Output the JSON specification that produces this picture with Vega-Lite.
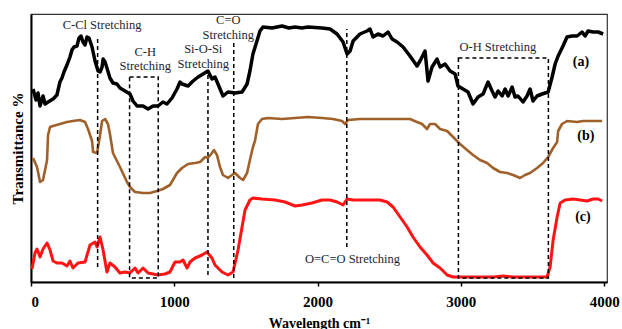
{
  "$schema": "https://vega.github.io/schema/vega-lite/v6.json",
  "width": 576,
  "height": 268,
  "autosize": "none",
  "padding": {"left": 31, "top": 14, "right": 15, "bottom": 47},
  "config": {
    "font": "'Liberation Serif', 'Times New Roman', serif",
    "view": {"stroke": "#333333", "strokeWidth": 1.2},
    "axisX": {"domainColor": "black", "domainWidth": 2, "tickColor": "black", "tickWidth": 1.5, "tickSize": 4, "labelFont": "'Liberation Serif', 'Times New Roman', serif", "labelFontWeight": "bold", "labelFontSize": 15, "labelColor": "black", "labelPadding": 8, "grid": false, "titleFont": "'Liberation Serif', 'Times New Roman', serif", "titleFontWeight": "bold", "titleFontSize": 14, "titleColor": "black", "titlePadding": 7},
    "axisY": {"domainColor": "black", "domainWidth": 2, "ticks": false, "labels": false, "grid": false, "titleFont": "'Liberation Serif', 'Times New Roman', serif", "titleFontWeight": "bold", "titleFontSize": 15, "titleColor": "black", "titlePadding": 6}
  },
  "datasets": {
    "a": [
      {"x":14,"y":193},{"x":35,"y":182},{"x":49,"y":189},{"x":63,"y":176},{"x":84,"y":186},{"x":98,"y":178},{"x":119,"y":180},{"x":154,"y":183},{"x":181,"y":187},{"x":202,"y":200},{"x":216,"y":204},{"x":230,"y":210},{"x":251,"y":217},{"x":272,"y":225},{"x":286,"y":232},{"x":300,"y":235},{"x":321,"y":236},{"x":335,"y":244},{"x":349,"y":246},{"x":363,"y":240},{"x":377,"y":237},{"x":391,"y":245},{"x":405,"y":244},{"x":426,"y":235},{"x":447,"y":221},{"x":468,"y":211},{"x":482,"y":210},{"x":496,"y":215},{"x":503,"y":223},{"x":517,"y":220},{"x":530,"y":214},{"x":551,"y":204},{"x":572,"y":199},{"x":600,"y":198},{"x":621,"y":194},{"x":656,"y":191},{"x":691,"y":188},{"x":712,"y":181},{"x":740,"y":176},{"x":782,"y":176},{"x":817,"y":173},{"x":852,"y":176},{"x":886,"y":176},{"x":921,"y":180},{"x":949,"y":178},{"x":984,"y":184},{"x":1019,"y":193},{"x":1040,"y":200},{"x":1054,"y":198},{"x":1096,"y":196},{"x":1131,"y":201},{"x":1166,"y":205},{"x":1201,"y":208},{"x":1235,"y":211},{"x":1263,"y":203},{"x":1284,"y":205},{"x":1305,"y":198},{"x":1340,"y":186},{"x":1375,"y":190},{"x":1424,"y":189},{"x":1473,"y":190},{"x":1508,"y":198},{"x":1528,"y":211},{"x":1549,"y":228},{"x":1577,"y":241},{"x":1598,"y":251},{"x":1619,"y":255},{"x":1682,"y":254},{"x":1752,"y":256},{"x":1800,"y":254},{"x":1843,"y":255},{"x":1890,"y":254},{"x":1933,"y":255},{"x":2031,"y":254},{"x":2087,"y":253},{"x":2136,"y":248},{"x":2178,"y":240},{"x":2206,"y":228},{"x":2227,"y":231},{"x":2248,"y":241},{"x":2296,"y":248},{"x":2345,"y":251},{"x":2366,"y":253},{"x":2387,"y":245},{"x":2422,"y":248},{"x":2457,"y":246},{"x":2492,"y":250},{"x":2520,"y":243},{"x":2555,"y":240},{"x":2597,"y":235},{"x":2645,"y":226},{"x":2694,"y":216},{"x":2715,"y":221},{"x":2750,"y":231},{"x":2771,"y":201},{"x":2799,"y":215},{"x":2834,"y":223},{"x":2855,"y":215},{"x":2890,"y":218},{"x":2925,"y":211},{"x":2960,"y":208},{"x":2980,"y":196},{"x":3015,"y":193},{"x":3050,"y":190},{"x":3085,"y":178},{"x":3120,"y":185},{"x":3155,"y":188},{"x":3190,"y":200},{"x":3218,"y":191},{"x":3239,"y":185},{"x":3260,"y":191},{"x":3288,"y":186},{"x":3309,"y":193},{"x":3330,"y":186},{"x":3358,"y":195},{"x":3378,"y":185},{"x":3399,"y":186},{"x":3434,"y":180},{"x":3462,"y":186},{"x":3483,"y":193},{"x":3504,"y":181},{"x":3532,"y":186},{"x":3567,"y":188},{"x":3609,"y":190},{"x":3637,"y":205},{"x":3658,"y":218},{"x":3679,"y":226},{"x":3713,"y":236},{"x":3741,"y":245},{"x":3776,"y":246},{"x":3811,"y":246},{"x":3846,"y":250},{"x":3867,"y":246},{"x":3888,"y":251},{"x":3923,"y":250},{"x":3958,"y":250},{"x":3993,"y":248}
    ],
    "b": [
      {"x":14,"y":124},{"x":42,"y":115},{"x":63,"y":100},{"x":84,"y":102},{"x":112,"y":122},{"x":119,"y":147},{"x":133,"y":155},{"x":154,"y":156},{"x":202,"y":158},{"x":251,"y":160},{"x":293,"y":161},{"x":342,"y":162},{"x":377,"y":160},{"x":398,"y":153},{"x":426,"y":141},{"x":433,"y":130},{"x":461,"y":129},{"x":468,"y":135},{"x":482,"y":147},{"x":496,"y":161},{"x":517,"y":163},{"x":537,"y":158},{"x":551,"y":148},{"x":572,"y":129},{"x":621,"y":115},{"x":670,"y":100},{"x":691,"y":95},{"x":726,"y":90},{"x":782,"y":89},{"x":831,"y":89},{"x":879,"y":91},{"x":921,"y":93},{"x":970,"y":97},{"x":1019,"y":109},{"x":1040,"y":112},{"x":1054,"y":114},{"x":1096,"y":118},{"x":1145,"y":119},{"x":1180,"y":120},{"x":1215,"y":125},{"x":1235,"y":124},{"x":1263,"y":129},{"x":1277,"y":132},{"x":1298,"y":127},{"x":1319,"y":115},{"x":1340,"y":107},{"x":1375,"y":104},{"x":1403,"y":107},{"x":1424,"y":109},{"x":1459,"y":104},{"x":1480,"y":102},{"x":1508,"y":109},{"x":1528,"y":122},{"x":1549,"y":135},{"x":1563,"y":141},{"x":1584,"y":158},{"x":1612,"y":163},{"x":1654,"y":164},{"x":1752,"y":163},{"x":1843,"y":164},{"x":1933,"y":165},{"x":2031,"y":164},{"x":2108,"y":163},{"x":2171,"y":161},{"x":2192,"y":158},{"x":2213,"y":162},{"x":2296,"y":163},{"x":2485,"y":163},{"x":2645,"y":163},{"x":2694,"y":160},{"x":2729,"y":158},{"x":2764,"y":153},{"x":2785,"y":158},{"x":2820,"y":158},{"x":2855,"y":153},{"x":2904,"y":151},{"x":2946,"y":145},{"x":2994,"y":138},{"x":3043,"y":132},{"x":3085,"y":127},{"x":3134,"y":122},{"x":3183,"y":119},{"x":3225,"y":114},{"x":3274,"y":110},{"x":3323,"y":109},{"x":3365,"y":107},{"x":3413,"y":104},{"x":3448,"y":107},{"x":3483,"y":109},{"x":3532,"y":114},{"x":3574,"y":119},{"x":3609,"y":125},{"x":3644,"y":134},{"x":3672,"y":140},{"x":3679,"y":151},{"x":3706,"y":158},{"x":3741,"y":161},{"x":3811,"y":160},{"x":3853,"y":161},{"x":3923,"y":161},{"x":3986,"y":161}
    ],
    "c": [
      {"x":7,"y":13},{"x":28,"y":29},{"x":42,"y":33},{"x":63,"y":25},{"x":84,"y":33},{"x":112,"y":39},{"x":133,"y":32},{"x":154,"y":21},{"x":181,"y":19},{"x":216,"y":19},{"x":251,"y":16},{"x":272,"y":21},{"x":293,"y":14},{"x":328,"y":19},{"x":377,"y":20},{"x":412,"y":37},{"x":447,"y":40},{"x":461,"y":35},{"x":482,"y":45},{"x":503,"y":32},{"x":530,"y":10},{"x":551,"y":19},{"x":586,"y":15},{"x":621,"y":9},{"x":656,"y":10},{"x":691,"y":9},{"x":726,"y":14},{"x":747,"y":9},{"x":782,"y":14},{"x":817,"y":9},{"x":852,"y":8},{"x":886,"y":7},{"x":935,"y":8},{"x":970,"y":10},{"x":1005,"y":20},{"x":1040,"y":20},{"x":1061,"y":22},{"x":1089,"y":14},{"x":1110,"y":20},{"x":1145,"y":24},{"x":1194,"y":27},{"x":1228,"y":30},{"x":1263,"y":24},{"x":1284,"y":17},{"x":1333,"y":10},{"x":1375,"y":7},{"x":1410,"y":10},{"x":1445,"y":32},{"x":1473,"y":55},{"x":1494,"y":72},{"x":1528,"y":82},{"x":1549,"y":84},{"x":1612,"y":83},{"x":1703,"y":82},{"x":1773,"y":80},{"x":1843,"y":76},{"x":1892,"y":77},{"x":1961,"y":79},{"x":2031,"y":82},{"x":2087,"y":82},{"x":2136,"y":80},{"x":2178,"y":77},{"x":2206,"y":83},{"x":2248,"y":82},{"x":2345,"y":82},{"x":2436,"y":82},{"x":2485,"y":80},{"x":2527,"y":75},{"x":2576,"y":65},{"x":2625,"y":55},{"x":2666,"y":45},{"x":2715,"y":35},{"x":2764,"y":27},{"x":2806,"y":19},{"x":2855,"y":14},{"x":2904,"y":7},{"x":2946,"y":5},{"x":3064,"y":5},{"x":3225,"y":5},{"x":3295,"y":6},{"x":3365,"y":5},{"x":3462,"y":5},{"x":3602,"y":5},{"x":3623,"y":15},{"x":3644,"y":42},{"x":3672,"y":65},{"x":3693,"y":79},{"x":3728,"y":82},{"x":3783,"y":83},{"x":3881,"y":81},{"x":3923,"y":83},{"x":3958,"y":83},{"x":3986,"y":81}
    ],
    "boxes": [
      {"x": 688, "xe": 888, "y": 4, "ye": 205},
      {"x": 2983, "xe": 3611, "y": 4, "ye": 224}
    ],
    "vlines": [
      {"x": 465, "y": 15, "ye": 246},
      {"x": 1235, "y": 7, "ye": 210},
      {"x": 1415, "y": 4, "ye": 239},
      {"x": 2204, "y": 35, "ye": 253}
    ],
    "labels": [
      {"x": 496, "y": 257, "label": "C-Cl  Stretching"},
      {"x": 797, "y": 230, "label": "C-H"},
      {"x": 797, "y": 216, "label": "Stretching"},
      {"x": 1202, "y": 233, "label": "Si-O-Si"},
      {"x": 1202, "y": 218, "label": "Stretching"},
      {"x": 1377, "y": 262, "label": "C=O"},
      {"x": 1377, "y": 247, "label": "Stretching"},
      {"x": 3258, "y": 235, "label": "O-H Stretching"},
      {"x": 2244, "y": 23, "label": "O=C=O Stretching"}
    ],
    "tags": [
      {"x": 3838, "y": 220, "label": "(a)"},
      {"x": 3873, "y": 146, "label": "(b)"},
      {"x": 3852, "y": 65, "label": "(c)"}
    ]
  },
  "layer": [
    {
      "data": {"name": "a"},
      "mark": {"type": "line", "color": "black", "strokeWidth": 3.5, "strokeJoin": "round"},
      "encoding": {
        "x": {"field": "x", "type": "quantitative", "title": "Wavelength cm⁻¹", "scale": {"domain": [0, 4020], "nice": false, "zero": false}, "axis": {"values": [0, 1000, 2000, 3000, 4000], "format": "d"}},
        "y": {"field": "y", "type": "quantitative", "title": "Transmittance %", "scale": {"domain": [0, 268], "nice": false, "zero": false}}
      }
    },
    {
      "data": {"name": "b"},
      "mark": {"type": "line", "color": "#a0602a", "strokeWidth": 2.6, "strokeJoin": "round"},
      "encoding": {
        "x": {"field": "x", "type": "quantitative", "title": "Wavelength cm⁻¹", "axis": {"values": [0, 1000, 2000, 3000, 4000], "format": "d"}},
        "y": {"field": "y", "type": "quantitative", "title": "Transmittance %"}
      }
    },
    {
      "data": {"name": "c"},
      "mark": {"type": "line", "color": "#ff1414", "strokeWidth": 3, "strokeJoin": "round"},
      "encoding": {
        "x": {"field": "x", "type": "quantitative", "title": "Wavelength cm⁻¹", "axis": {"values": [0, 1000, 2000, 3000, 4000], "format": "d"}},
        "y": {"field": "y", "type": "quantitative", "title": "Transmittance %"}
      }
    },
    {
      "data": {"name": "boxes"},
      "mark": {"type": "rect", "filled": false, "stroke": "black", "strokeWidth": 1.5, "strokeDash": [4, 3]},
      "encoding": {
        "x": {"field": "x", "type": "quantitative", "title": "Wavelength cm⁻¹", "axis": {"values": [0, 1000, 2000, 3000, 4000], "format": "d"}},
        "x2": {"field": "xe"},
        "y": {"field": "y", "type": "quantitative", "title": "Transmittance %"},
        "y2": {"field": "ye"}
      }
    },
    {
      "data": {"name": "vlines"},
      "mark": {"type": "rule", "stroke": "black", "strokeWidth": 1.5, "strokeDash": [4, 3]},
      "encoding": {
        "x": {"field": "x", "type": "quantitative", "title": "Wavelength cm⁻¹", "axis": {"values": [0, 1000, 2000, 3000, 4000], "format": "d"}},
        "y": {"field": "y", "type": "quantitative", "title": "Transmittance %"},
        "y2": {"field": "ye"}
      }
    },
    {
      "data": {"name": "labels"},
      "mark": {"type": "text", "font": "'Liberation Serif', 'Times New Roman', serif", "fontSize": 12.5, "color": "#1e1e30", "align": "center", "baseline": "middle"},
      "encoding": {
        "x": {"field": "x", "type": "quantitative", "title": "Wavelength cm⁻¹", "axis": {"values": [0, 1000, 2000, 3000, 4000], "format": "d"}},
        "y": {"field": "y", "type": "quantitative", "title": "Transmittance %"},
        "text": {"field": "label"}
      }
    },
    {
      "data": {"name": "tags"},
      "mark": {"type": "text", "font": "'Liberation Serif', 'Times New Roman', serif", "fontSize": 14, "fontWeight": "bold", "color": "black", "align": "center", "baseline": "middle"},
      "encoding": {
        "x": {"field": "x", "type": "quantitative", "title": "Wavelength cm⁻¹", "axis": {"values": [0, 1000, 2000, 3000, 4000], "format": "d"}},
        "y": {"field": "y", "type": "quantitative", "title": "Transmittance %"},
        "text": {"field": "label"}
      }
    }
  ]
}
